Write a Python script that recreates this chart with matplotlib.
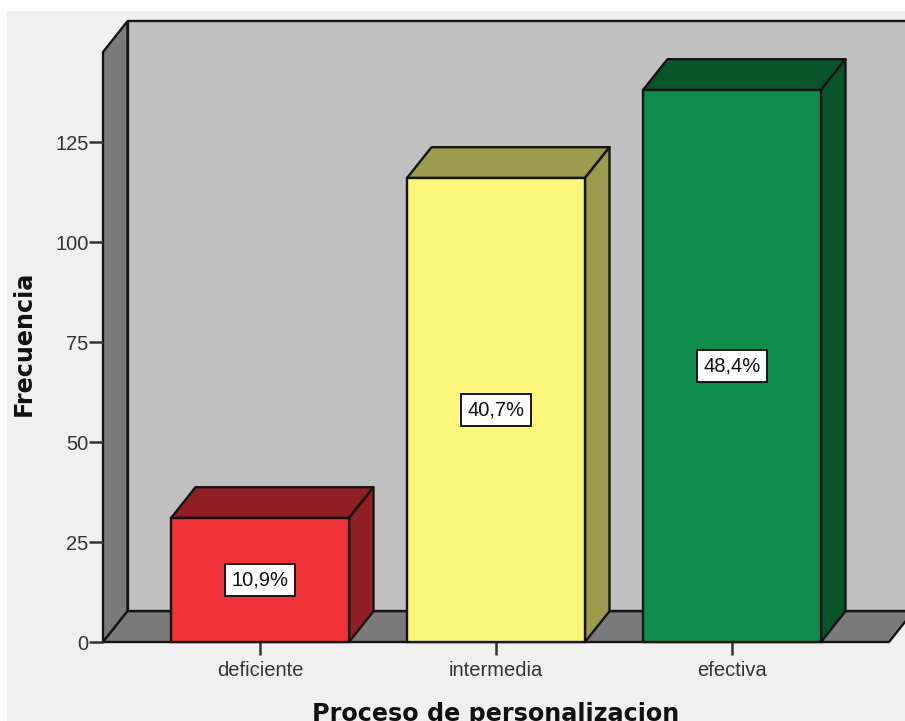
# %%
import matplotlib
matplotlib.use("Agg")
import matplotlib.pyplot as plt
from matplotlib.patches import Polygon, Rectangle

plt.rcParams['font.family'] = ['Liberation Sans', 'DejaVu Sans']

# %%
categorias = ['deficiente', 'intermedia', 'efectiva']
frecuencias = [31, 116, 138]
porcentajes = ['10,9%', '40,7%', '48,4%']
colores = ['#f13239', '#fcf67a', '#108c4a']
colores_oscuros = ['#8f1f22', '#9c9a4c', '#075528']
ticks_y = [0, 25, 50, 75, 100, 125]

# Profundidad 3D en unidades de datos
prof_x = 24.5 / 236
prof_y = 7.7
ancho = 178 / 236
y_max = 147.5
x_min = (103 - 260) / 236
x_max = (889 - 260) / 236

# %%
fig = plt.figure(figsize=(9.05, 7.21), dpi=100, facecolor='white')
fig.add_artist(Rectangle((7 / 905, 0), 898 / 905, 710 / 721, transform=fig.transFigure,
                         facecolor='#f0f0f0', edgecolor='none', zorder=-1))
ax = fig.add_axes([103 / 905, 79 / 721, 786 / 905, 590 / 721])
ax.set_xlim(x_min, x_max)
ax.set_ylim(0, y_max)
ax.patch.set_visible(False)
for spine in ax.spines.values():
    spine.set_visible(False)


def cara(puntos, color, zorder=1, lw=1.7):
    ax.add_patch(Polygon(puntos, closed=True, facecolor=color, edgecolor='#141414',
                         linewidth=lw, clip_on=False, zorder=zorder, joinstyle='round'))


# Paredes y suelo de la caja
cara([(x_min + prof_x, prof_y), (x_max + prof_x, prof_y), (x_max + prof_x, y_max + prof_y),
      (x_min + prof_x, y_max + prof_y)], '#c0c0c0')
cara([(x_min, 0), (x_min + prof_x, prof_y), (x_min + prof_x, y_max + prof_y), (x_min, y_max)],
     '#7a7a7a', zorder=1.1)
cara([(x_min, 0), (x_max, 0), (x_max + prof_x, prof_y), (x_min + prof_x, prof_y)],
     '#7a7a7a', zorder=1.2)

# %%
# Barras con cara superior y lateral
for i, valor in enumerate(frecuencias):
    izq = i - ancho / 2
    der = i + ancho / 2
    ax.bar(i, valor, width=ancho, color=colores[i], edgecolor='#141414', linewidth=1.7,
           zorder=3, clip_on=False)
    cara([(izq, valor), (der, valor), (der + prof_x, valor + prof_y), (izq + prof_x, valor + prof_y)],
         colores_oscuros[i], zorder=2.5)
    cara([(der, 0), (der + prof_x, prof_y), (der + prof_x, valor + prof_y), (der, valor)],
         colores_oscuros[i], zorder=2.5)
    ax.text(i, valor / 2, porcentajes[i], ha='center', va='center', fontsize=14.5, color='#111111',
            zorder=4, bbox=dict(boxstyle='square,pad=0.3', facecolor='white',
                                edgecolor='#141414', linewidth=1.4))

# %%
ax.set_xticks(range(len(categorias)))
ax.set_xticklabels(categorias)
ax.set_yticks(ticks_y)
ax.tick_params(axis='x', length=9.5, width=1.8, color='#333333', pad=4, labelsize=14.5, labelcolor='#333333')
ax.tick_params(axis='y', length=10, width=1.8, color='#333333', pad=0.5, labelsize=14.5, labelcolor='#333333')
ax.set_xlabel('Proceso de personalizacion', fontsize=17.2, fontweight='bold', family='DejaVu Sans', color='#111111')
ax.set_ylabel('Frecuencia', fontsize=17.2, fontweight='bold', family='DejaVu Sans', color='#111111')
ax.xaxis.set_label_coords(393 / 786, -60 / 590)
ax.yaxis.set_label_coords(-67 / 786, 299 / 590)

fig.savefig('out.png', dpi=100, facecolor=fig.get_facecolor())
